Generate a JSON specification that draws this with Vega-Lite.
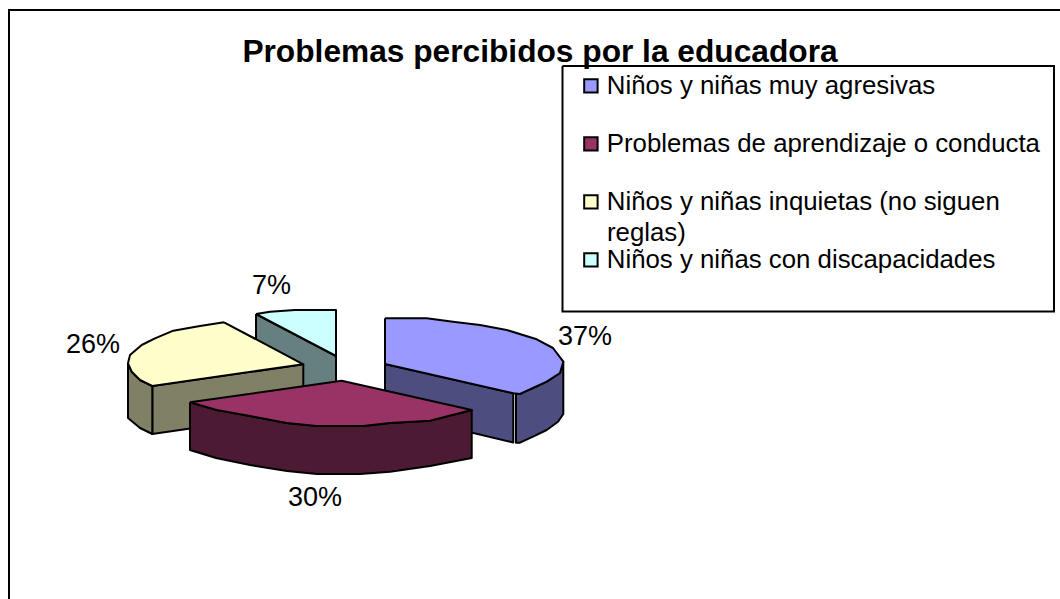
{"$schema":"https://vega.github.io/schema/vega-lite/v6.json","width":1060,"height":599,"padding":0,"autosize":"none","background":"white","view":{"stroke":null},
"title":{"text":"Problemas percibidos por la educadora","font":"Liberation Sans","fontSize":31.7,"fontWeight":"bold","color":"black","anchor":"middle","dx":10,"dy":73},
"datasets":{"piezas":[
{"p":"Lado discapacidades","i":1,"x":256,"y":314},{"p":"Lado discapacidades","i":2,"x":336,"y":356},{"p":"Lado discapacidades","i":3,"x":336,"y":400},{"p":"Lado discapacidades","i":4,"x":256,"y":400},{"p":"Lado discapacidades","i":5,"x":256,"y":314},
{"p":"Niños y niñas con discapacidades","i":1,"x":256,"y":314},{"p":"Niños y niñas con discapacidades","i":2,"x":270,"y":311.7},{"p":"Niños y niñas con discapacidades","i":3,"x":295,"y":310},{"p":"Niños y niñas con discapacidades","i":4,"x":336,"y":310},{"p":"Niños y niñas con discapacidades","i":5,"x":336,"y":356},{"p":"Niños y niñas con discapacidades","i":6,"x":256,"y":314},
{"p":"Lado inquietas frente","i":1,"x":152.3,"y":386},{"p":"Lado inquietas frente","i":2,"x":303.3,"y":364.3},{"p":"Lado inquietas frente","i":3,"x":303.3,"y":412},{"p":"Lado inquietas frente","i":4,"x":152.3,"y":434},{"p":"Lado inquietas frente","i":5,"x":152.3,"y":386},
{"p":"Lado inquietas curva","i":1,"x":128,"y":363},{"p":"Lado inquietas curva","i":2,"x":131.7,"y":371.7},{"p":"Lado inquietas curva","i":3,"x":140,"y":380},{"p":"Lado inquietas curva","i":4,"x":152.3,"y":386},{"p":"Lado inquietas curva","i":5,"x":152.3,"y":434},{"p":"Lado inquietas curva","i":6,"x":140,"y":428},{"p":"Lado inquietas curva","i":7,"x":128,"y":418},{"p":"Lado inquietas curva","i":8,"x":128,"y":363},
{"p":"Niños y niñas inquietas (no siguen reglas)","i":1,"x":224,"y":322.3},{"p":"Niños y niñas inquietas (no siguen reglas)","i":2,"x":303.3,"y":364.3},{"p":"Niños y niñas inquietas (no siguen reglas)","i":3,"x":152.3,"y":386},{"p":"Niños y niñas inquietas (no siguen reglas)","i":4,"x":140,"y":380},{"p":"Niños y niñas inquietas (no siguen reglas)","i":5,"x":131.7,"y":371.7},{"p":"Niños y niñas inquietas (no siguen reglas)","i":6,"x":128,"y":363.3},{"p":"Niños y niñas inquietas (no siguen reglas)","i":7,"x":130,"y":355},{"p":"Niños y niñas inquietas (no siguen reglas)","i":8,"x":141.7,"y":345},{"p":"Niños y niñas inquietas (no siguen reglas)","i":9,"x":155,"y":338.3},{"p":"Niños y niñas inquietas (no siguen reglas)","i":10,"x":173.3,"y":330.7},{"p":"Niños y niñas inquietas (no siguen reglas)","i":11,"x":200,"y":326},{"p":"Niños y niñas inquietas (no siguen reglas)","i":12,"x":224,"y":322.3},
{"p":"Lado agresivas frente","i":1,"x":385,"y":364},{"p":"Lado agresivas frente","i":2,"x":513.3,"y":393.3},{"p":"Lado agresivas frente","i":3,"x":513.3,"y":442.5},{"p":"Lado agresivas frente","i":4,"x":385,"y":412},{"p":"Lado agresivas frente","i":5,"x":385,"y":364},
{"p":"Lado agresivas curva","i":1,"x":516,"y":394},{"p":"Lado agresivas curva","i":2,"x":533,"y":388},{"p":"Lado agresivas curva","i":3,"x":546.7,"y":381.7},{"p":"Lado agresivas curva","i":4,"x":560,"y":373},{"p":"Lado agresivas curva","i":5,"x":563.3,"y":361.7},{"p":"Lado agresivas curva","i":6,"x":563.3,"y":414},{"p":"Lado agresivas curva","i":7,"x":558,"y":421.7},{"p":"Lado agresivas curva","i":8,"x":546.7,"y":430},{"p":"Lado agresivas curva","i":9,"x":533,"y":436.7},{"p":"Lado agresivas curva","i":10,"x":520,"y":442.7},{"p":"Lado agresivas curva","i":11,"x":516,"y":442.7},{"p":"Lado agresivas curva","i":12,"x":516,"y":394},
{"p":"Niños y niñas muy agresivas","i":1,"x":385,"y":318.3},{"p":"Niños y niñas muy agresivas","i":2,"x":426.7,"y":318.3},{"p":"Niños y niñas muy agresivas","i":3,"x":453,"y":321.7},{"p":"Niños y niñas muy agresivas","i":4,"x":480,"y":325},{"p":"Niños y niñas muy agresivas","i":5,"x":506.7,"y":330},{"p":"Niños y niñas muy agresivas","i":6,"x":536.7,"y":339.3},{"p":"Niños y niñas muy agresivas","i":7,"x":553,"y":348},{"p":"Niños y niñas muy agresivas","i":8,"x":563.3,"y":361.7},{"p":"Niños y niñas muy agresivas","i":9,"x":560,"y":373},{"p":"Niños y niñas muy agresivas","i":10,"x":546.7,"y":381.7},{"p":"Niños y niñas muy agresivas","i":11,"x":533,"y":388},{"p":"Niños y niñas muy agresivas","i":12,"x":520,"y":394},{"p":"Niños y niñas muy agresivas","i":13,"x":513.3,"y":393.3},{"p":"Niños y niñas muy agresivas","i":14,"x":385,"y":364},{"p":"Niños y niñas muy agresivas","i":15,"x":385,"y":318.3},
{"p":"Lado aprendizaje","i":1,"x":190,"y":402.3},{"p":"Lado aprendizaje","i":2,"x":216.7,"y":410},{"p":"Lado aprendizaje","i":3,"x":250,"y":416},{"p":"Lado aprendizaje","i":4,"x":286.7,"y":423},{"p":"Lado aprendizaje","i":5,"x":316.7,"y":426},{"p":"Lado aprendizaje","i":6,"x":363,"y":426},{"p":"Lado aprendizaje","i":7,"x":390,"y":423},{"p":"Lado aprendizaje","i":8,"x":430,"y":420.7},{"p":"Lado aprendizaje","i":9,"x":471.7,"y":410},{"p":"Lado aprendizaje","i":10,"x":471.7,"y":458},{"p":"Lado aprendizaje","i":11,"x":430,"y":466},{"p":"Lado aprendizaje","i":12,"x":390,"y":471.7},{"p":"Lado aprendizaje","i":13,"x":360,"y":474},{"p":"Lado aprendizaje","i":14,"x":317,"y":474},{"p":"Lado aprendizaje","i":15,"x":287,"y":471},{"p":"Lado aprendizaje","i":16,"x":250,"y":465},{"p":"Lado aprendizaje","i":17,"x":216,"y":458},{"p":"Lado aprendizaje","i":18,"x":190,"y":450},{"p":"Lado aprendizaje","i":19,"x":190,"y":402.3},
{"p":"Problemas de aprendizaje o conducta","i":1,"x":190,"y":402.3},{"p":"Problemas de aprendizaje o conducta","i":2,"x":341.7,"y":380.7},{"p":"Problemas de aprendizaje o conducta","i":3,"x":471.7,"y":410},{"p":"Problemas de aprendizaje o conducta","i":4,"x":430,"y":420.7},{"p":"Problemas de aprendizaje o conducta","i":5,"x":390,"y":423},{"p":"Problemas de aprendizaje o conducta","i":6,"x":363,"y":426},{"p":"Problemas de aprendizaje o conducta","i":7,"x":316.7,"y":426},{"p":"Problemas de aprendizaje o conducta","i":8,"x":286.7,"y":423},{"p":"Problemas de aprendizaje o conducta","i":9,"x":250,"y":416},{"p":"Problemas de aprendizaje o conducta","i":10,"x":216.7,"y":410},{"p":"Problemas de aprendizaje o conducta","i":11,"x":190,"y":402.3}
],
"marcos":[
{"m":"exterior","i":1,"x":9,"y":599},{"m":"exterior","i":2,"x":9,"y":10},{"m":"exterior","i":3,"x":1060,"y":10},
{"m":"leyenda","i":1,"x":562.5,"y":66},{"m":"leyenda","i":2,"x":1054,"y":66},{"m":"leyenda","i":3,"x":1054,"y":311.5},{"m":"leyenda","i":4,"x":562.5,"y":311.5},{"m":"leyenda","i":5,"x":562.5,"y":66}
],
"etiquetas":[{"t":"37%","x":585,"y":337},{"t":"30%","x":315,"y":498},{"t":"26%","x":93,"y":345},{"t":"7%","x":271.5,"y":286}],
"extra":[{"t":"reglas)","x":607,"y":233}]},
"layer":[
{"data":{"name":"marcos"},"mark":{"type":"line","stroke":"black","strokeWidth":2,"fill":null},
"encoding":{"x":{"field":"x","type":"quantitative","scale":{"domain":[0,1060]},"axis":null},"y":{"field":"y","type":"quantitative","scale":{"domain":[0,599],"reverse":true},"axis":null},"detail":{"field":"m"},"order":{"field":"i"}}},
{"data":{"name":"piezas"},"mark":{"type":"line","stroke":"black","strokeWidth":2,"strokeJoin":"round"},
"encoding":{"x":{"field":"x","type":"quantitative","scale":{"domain":[0,1060]},"axis":null},"y":{"field":"y","type":"quantitative","scale":{"domain":[0,599],"reverse":true},"axis":null},"order":{"field":"i"},
"fill":{"field":"p","type":"nominal","scale":{"domain":["Niños y niñas muy agresivas","Problemas de aprendizaje o conducta","Niños y niñas inquietas (no siguen reglas)","Niños y niñas con discapacidades","Lado discapacidades","Lado inquietas frente","Lado inquietas curva","Lado agresivas frente","Lado agresivas curva","Lado aprendizaje"],"range":["#9999FF","#993366","#FFFFCC","#CCFFFF","#668080","#808066","#808066","#4D4D80","#4D4D80","#4D1A33"]},
"legend":{"values":["Niños y niñas muy agresivas","Problemas de aprendizaje o conducta","Niños y niñas inquietas (no siguen reglas)","Niños y niñas con discapacidades"],"title":null,"orient":"none","legendX":578,"legendY":73,"symbolType":"square","symbolSize":180,"symbolStrokeColor":"black","symbolStrokeWidth":2,"labelFont":"Liberation Sans","labelFontSize":25.8,"labelColor":"black","labelLimit":500,"labelOffset":3,"rowPadding":31,"labelExpr":"datum.label == 'Niños y niñas inquietas (no siguen reglas)' ? 'Niños y niñas inquietas (no siguen' : datum.label"}}}},
{"data":{"name":"etiquetas"},"mark":{"type":"text","font":"Liberation Sans","fontSize":27,"color":"black"},
"encoding":{"x":{"field":"x","type":"quantitative","scale":{"domain":[0,1060]},"axis":null},"y":{"field":"y","type":"quantitative","scale":{"domain":[0,599],"reverse":true},"axis":null},"text":{"field":"t"}}},
{"data":{"name":"extra"},"mark":{"type":"text","font":"Liberation Sans","fontSize":25.8,"color":"black","align":"left"},
"encoding":{"x":{"field":"x","type":"quantitative","scale":{"domain":[0,1060]},"axis":null},"y":{"field":"y","type":"quantitative","scale":{"domain":[0,599],"reverse":true},"axis":null},"text":{"field":"t"}}}
]}
